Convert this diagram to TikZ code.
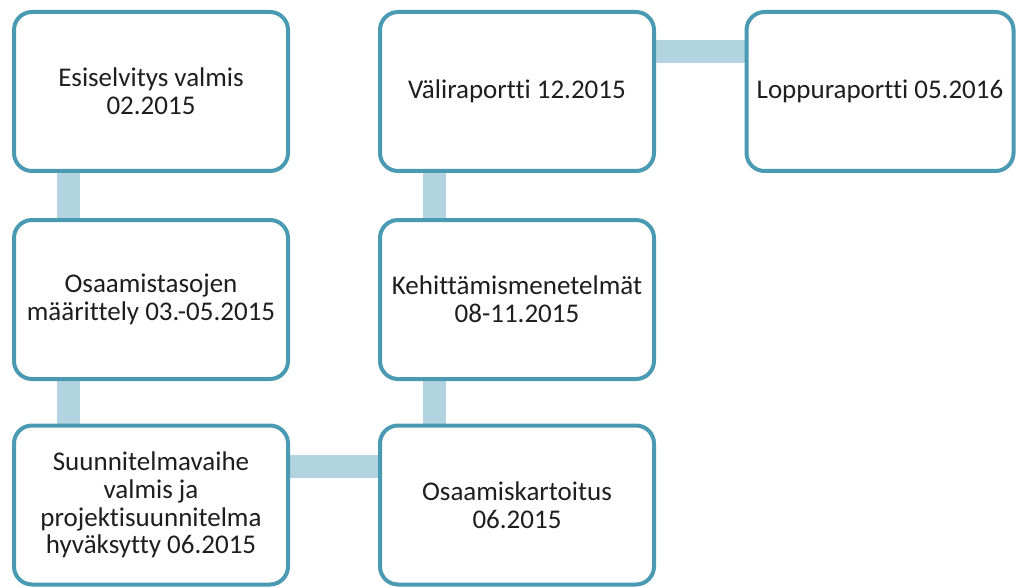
\documentclass[tikz,border=0pt]{standalone}
\usepackage{fontspec}
\setmainfont[Ligatures=NoCommon]{Carlito}
\usetikzlibrary{calc,backgrounds}
\definecolor{boxline}{HTML}{4A9AB4}
\definecolor{linkfill}{HTML}{B1D4E0}
\definecolor{txt}{HTML}{1E1E1E}
\begin{document}
\begin{tikzpicture}[x=1pt,y=-1pt,
  stagebox/.style={draw=boxline, line width=4pt, fill=white, rounded corners=18pt,
    minimum width=274pt, minimum height=159pt, inner sep=0pt, outer sep=0pt,
    align=center, text=txt, font=\fontsize{27}{27.7}\selectfont},
  link/.style={draw=linkfill, line width=23pt}]
\useasboundingbox (0,0) rectangle (1016,588);
\node[stagebox] (b1) at (151,91.5) {Esiselvitys valmis\\02.2015};
\node[stagebox] (b2) at (151,299.5) {Osaamistasojen\\määrittely 03.-05.2015};
\node[stagebox] (b3) at (151,505) {Suunnitelmavaihe\\valmis ja\\projektisuunnitelma\\hyväksytty 06.2015};
\node[stagebox] (b4) at (517,505) {Osaamiskartoitus\\06.2015};
\node[stagebox] (b5) at (517,299.5) {Kehittämismenetelmät\\08-11.2015};
\node[stagebox] (b6) at (517,91.5) {Väliraportti 12.2015};
\node[stagebox, minimum width=267pt] (b7) at (880,91.5) {Loppuraportti 05.2016};
\begin{scope}[on background layer]
\draw[link] ($(b1.south west)!0.2!(b1.south east)$) -- ($(b2.north west)!0.2!(b2.north east)$);
\draw[link] ($(b2.south west)!0.2!(b2.south east)$) -- ($(b3.north west)!0.2!(b3.north east)$);
\draw[link] ($(b3.north east)!0.26!(b3.south east)$) -- ($(b4.north west)!0.26!(b4.south west)$);
\draw[link] ($(b4.north west)!0.2!(b4.north east)$) -- ($(b5.south west)!0.2!(b5.south east)$);
\draw[link] ($(b5.north west)!0.2!(b5.north east)$) -- ($(b6.south west)!0.2!(b6.south east)$);
\draw[link] ($(b6.north east)!0.25!(b6.south east)$) -- ($(b7.north west)!0.25!(b7.south west)$);
\end{scope}
\end{tikzpicture}
\end{document}
